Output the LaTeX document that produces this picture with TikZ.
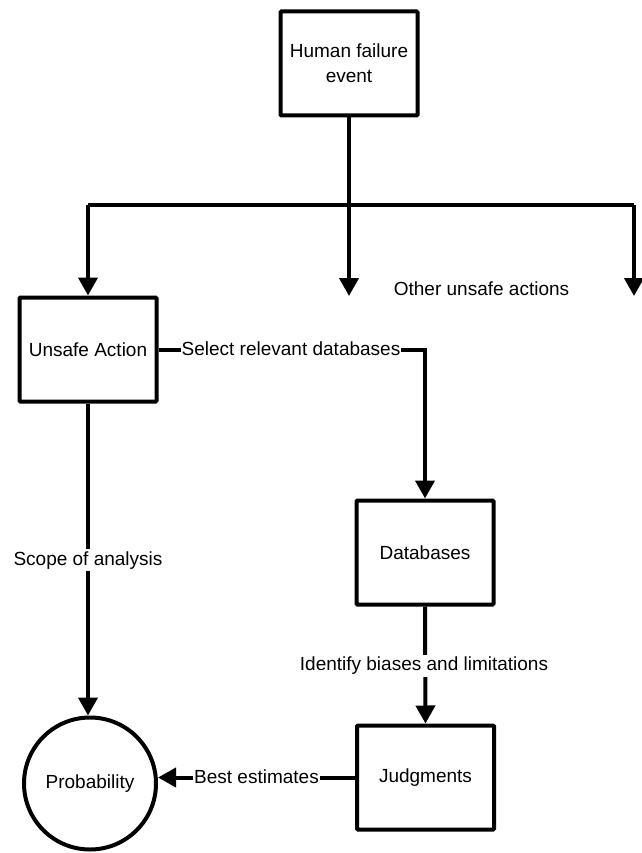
\documentclass[tikz,border=0pt]{standalone}
\usepackage{fontspec}
\setmainfont{Liberation Sans}
\usetikzlibrary{arrows.meta}
\begin{document}
\begin{tikzpicture}[x=1pt,y=-1pt,
  txt/.style={font=\fontsize{19}{25}\selectfont},
  box/.style={txt,draw,line width=4pt,minimum width=137pt,minimum height=104pt,inner sep=0pt,align=center,rounded corners=1pt},
  circ/.style={txt,draw,circle,line width=4pt,minimum size=132pt,inner sep=0pt},
  conn/.style={line width=4pt},
  arr/.style={conn,-{Triangle[length=18pt,width=19pt]}},
  lbl/.style={txt,fill=white,inner xsep=1pt,inner ysep=2pt,anchor=base}
]
\useasboundingbox (0,0) rectangle (641,853);

% nodes
\node[box] (hfe) at (349,63.5) {Human failure\\event};
\node[box] (ua)  at (88,349.5) {Unsafe Action};
\node[box] (db)  at (425,552.5) {Databases};
\node[box] (jd)  at (425.5,777.5) {Judgments};
\node[circ] (pr) at (90,783.5) {Probability};

% branch coordinates
\coordinate (jl) at (88,205);
\coordinate (jm) at (349,205);
\coordinate (jr) at (634,205);
\coordinate (mend) at (349,296);
\coordinate (rend) at (634,296);

% top fan-out
\draw[conn] (jl) -- (jr);
\draw[arr] (hfe.south) -- (mend);
\draw[arr] (jl) -- (ua.north);
\draw[arr] (jr) -- (rend);
\node[txt,anchor=base] (other) at (481.5,295) {Other unsafe actions};

% unsafe action -> databases
\draw[arr] (ua.east) -| (db.north);
\node[lbl] (sel) at (291,355) {Select relevant databases};

% unsafe action -> probability
\draw[arr] (ua.south) -- (ua.south |- pr.north);
\node[lbl] (scope) at (88,565) {Scope of analysis};

% databases -> judgments
\draw[arr] (db.south) -- (jd.north);
\node[lbl] (ident) at (424,670.7) {Identify biases and limitations};

% judgments -> probability
\draw[arr] (jd.west) -- (jd.west -| pr.east);
\node[lbl] (best) at (256.5,783) {Best estimates};
\end{tikzpicture}
\end{document}
